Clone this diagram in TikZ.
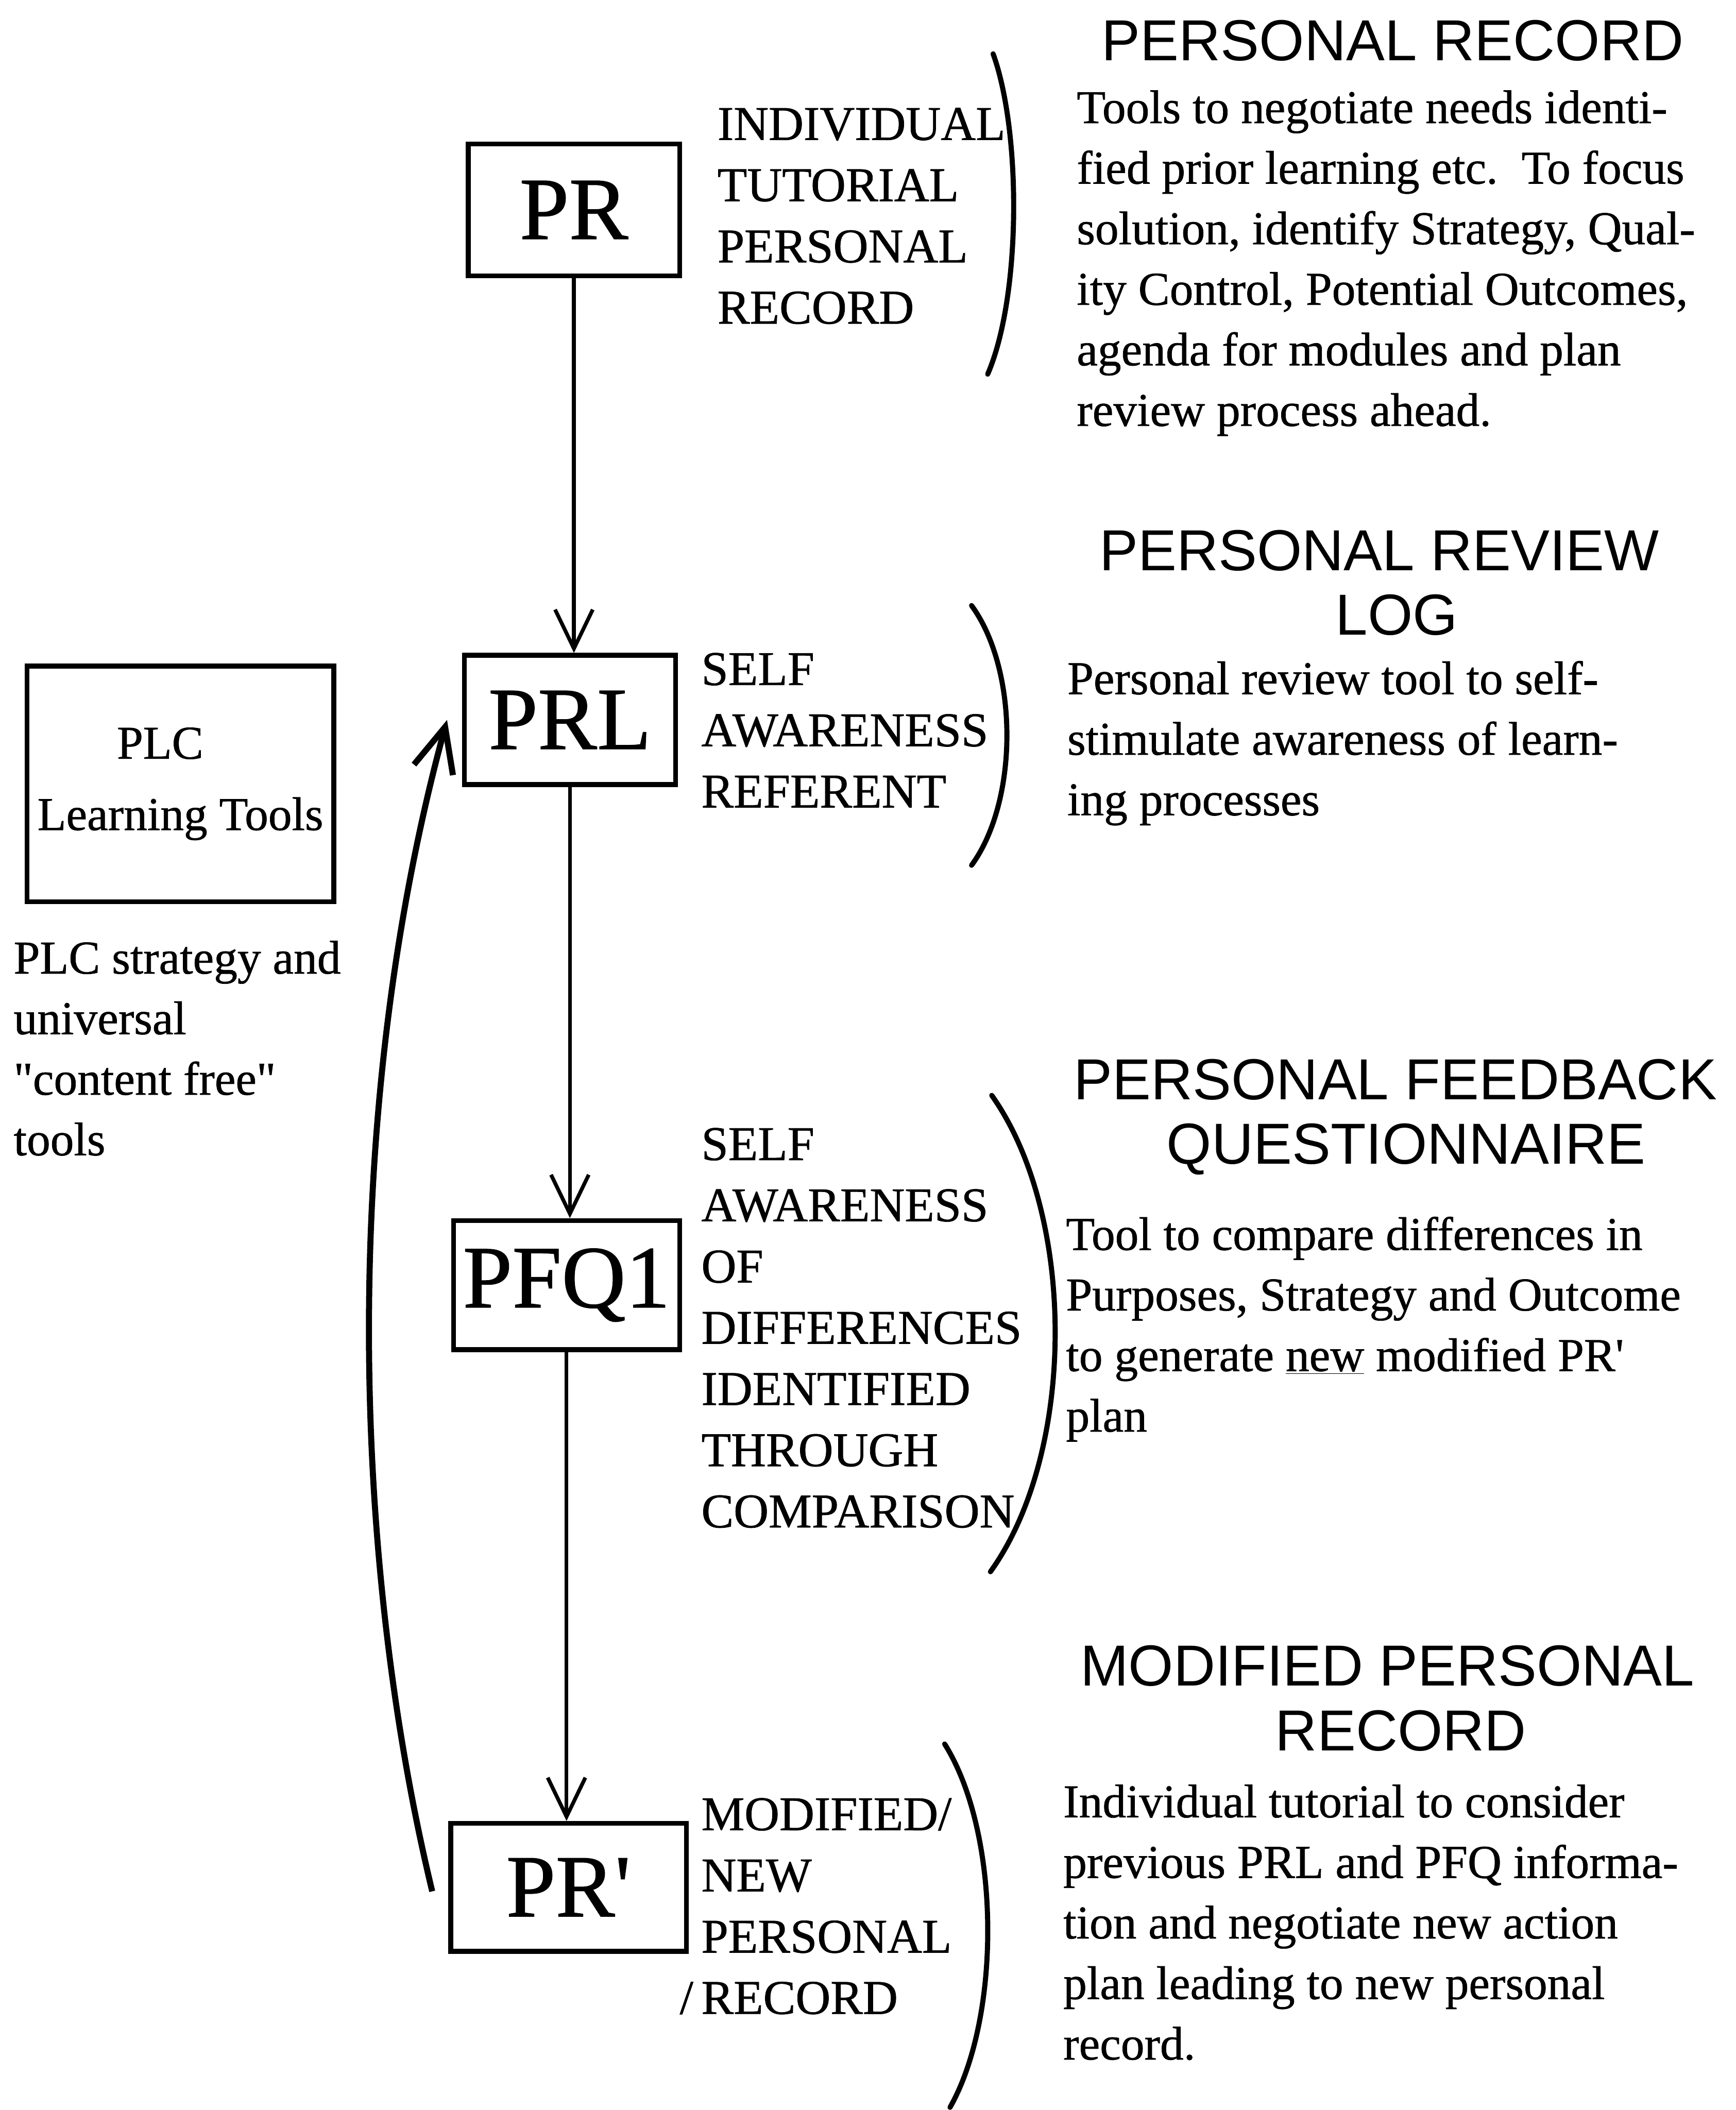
\documentclass[tikz,border=0pt]{standalone}
\usepackage{fontspec}
\setmainfont{Liberation Serif}[UprightFeatures={FakeBold=0.8}]
\newfontfamily\headfont{Liberation Sans}
\usetikzlibrary{arrows.meta}
\begin{document}
\begin{tikzpicture}[x=1pt,y=-1pt,
  boxnode/.style={draw, line width=3.6pt, inner sep=0pt, font=\fontsize{66}{70}\selectfont},
  lbl/.style={anchor=north west, align=left, inner sep=0pt, font=\fontsize{36}{45.5}\selectfont},
  body/.style={anchor=north west, align=left, inner sep=0pt, font=\fontsize{35}{45}\selectfont},
  head/.style={align=center, inner sep=0pt, font=\headfont\fontsize{43}{48}\selectfont},
  flow/.style={line width=2.8pt, -{Straight Barb[length=29pt,width=28pt]}},
  loopback/.style={line width=4.5pt, -{Straight Barb[length=33pt,width=30pt]}},
  brak/.style={line width=3.8pt, line cap=round}]
\fill[white] (0,0) rectangle (1290,1568);
\useasboundingbox (0,0) rectangle (1290,1568);

% main boxes
\node[boxnode, minimum width=157pt, minimum height=98pt] (pr) at (426.5,156) {PR};
\node[boxnode, minimum width=157pt, minimum height=96pt] (prl) at (423.5,535) {PRL};
\node[boxnode, minimum width=168pt, minimum height=96pt] (pfq) at (421,955) {PFQ1};
\node[boxnode, minimum width=175pt, minimum height=95pt] (prp) at (422.5,1402.5) {PR\textquotesingle};
\node[boxnode, minimum width=228pt, minimum height=175pt, align=center,
      font=\fontsize{35}{53}\selectfont] (plc) at (134,582.5) {PLC\hspace*{30pt}\\Learning Tools};

% connectors
\draw[flow] (pr.south) -- (pr.south |- prl.north);
\draw[flow] (prl.south) -- (prl.south |- pfq.north);
\draw[flow] (pfq.south) -- (pfq.south |- prp.north);
\draw[loopback] ([xshift=-12pt,yshift=-3pt]prp.west) .. controls (262,1160) and (252,830) .. ([xshift=-11pt]prl.west);

% labels beside boxes
\node[lbl] (l1) at (533,80) {INDIVIDUAL\\TUTORIAL\\PERSONAL\\RECORD};
\node[lbl] (l2) at (521,485) {SELF\\AWARENESS\\REFERENT};
\node[lbl] (l3) at (521,838) {SELF\\AWARENESS\\OF\\DIFFERENCES\\IDENTIFIED\\THROUGH\\COMPARISON};
\node[lbl] (l4) at (521,1336) {MODIFIED/\\NEW\\PERSONAL\\\llap{/\,}RECORD};

% brackets
\draw[brak] (738,40) .. controls (759,98) and (759,220) .. (734,278);
\draw[brak] (722,450) .. controls (757,498) and (757,595) .. (722,643);
\draw[brak] (737,814) .. controls (800,903) and (800,1079) .. (736,1168);
\draw[brak] (702,1296) .. controls (744,1363) and (744,1499) .. (706,1566);

% headings
\node[head] (h1) at (1035,30) {PERSONAL RECORD};
\node[head] (h2) at (1025,433) {PERSONAL REVIEW\\\hspace*{26pt}LOG};
\node[head] (h3) at (1037,830) {PERSONAL FEEDBACK\\\hspace*{16pt}QUESTIONNAIRE};
\node[head] (h4) at (1031,1262) {MODIFIED PERSONAL\\\hspace*{20pt}RECORD};

% descriptions
\node[body] (d1) at (800,67) {Tools to negotiate needs identi-\\fied prior learning etc.\ \ To focus\\solution, identify Strategy, Qual-\\ity Control, Potential Outcomes,\\agenda for modules and plan\\review process ahead.};
\node[body] (d2) at (793,491) {Personal review tool to self-\\stimulate awareness of learn-\\ing processes};
\node[body] (d3) at (792,904) {Tool to compare differences in\\Purposes, Strategy and Outcome\\to generate \underline{new} modified PR\textquotesingle\\plan};
\node[body] (d4) at (790,1326) {Individual tutorial to consider\\previous PRL and PFQ informa-\\tion and negotiate new action\\plan leading to new personal\\record.};
\node[body] (d5) at (10,699) {PLC strategy and\\universal\\\textquotedbl content free\textquotedbl\\tools};
\end{tikzpicture}
\end{document}
